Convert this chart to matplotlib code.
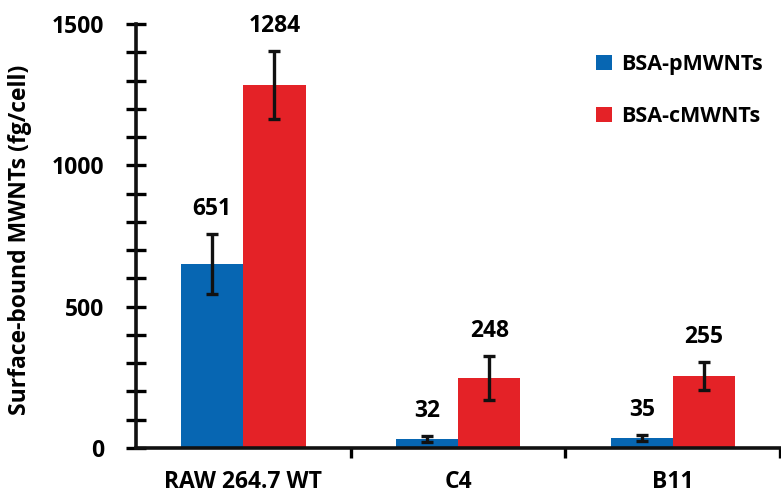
import numpy as np
import matplotlib.pyplot as plt
from matplotlib.ticker import MultipleLocator, FixedLocator

plt.rcParams['font.family'] = ['Open Sans', 'DejaVu Sans']
plt.rcParams['font.weight'] = 'bold'

# data
groups = ['RAW 264.7 WT', 'C4', 'B11']
series = ['BSA-pMWNTs', 'BSA-cMWNTs']
p_vals = [651, 32, 35]
p_err = [106, 10, 12]
c_vals = [1284, 248, 255]
c_err = [120, 78, 51]
colors = ['#0766B2', '#E42227']

fig = plt.figure(figsize=(7.81, 4.97), dpi=100)
ax = fig.add_axes([0.174, 0.0986, 0.825, 0.853])

x = np.arange(len(groups))
w = 0.29
ekw = dict(elinewidth=2.4, capthick=2.4, ecolor='#111111')
for off, vals, err, col, name in [(-w / 2, p_vals, p_err, colors[0], series[0]),
                                   (w / 2, c_vals, c_err, colors[1], series[1])]:
    ax.bar(x + off, vals, w, yerr=err, color=col, label=name,
           capsize=4.5, error_kw=ekw)
    for xi, v, e in zip(x + off, vals, err):
        ax.annotate(str(v), (xi, v + e), xytext=(0, 18), textcoords='offset points',
                    ha='center', va='center', fontsize=16.5, fontweight='bold')

ax.set_xlim(-0.5, 2.5)
ax.set_ylim(0, 1500)
ax.set_xticks(x)
ax.set_xticklabels(groups, fontsize=16.5, fontweight='bold')
ax.xaxis.set_minor_locator(FixedLocator([0.5, 1.5, 2.5]))
ax.tick_params(axis='x', which='major', length=0, pad=16)
ax.tick_params(axis='x', which='minor', length=7, width=2.4, direction='out')

ax.yaxis.set_major_locator(MultipleLocator(500))
ax.yaxis.set_minor_locator(MultipleLocator(100))
ax.tick_params(axis='y', which='both', direction='inout', length=14, width=2.4,
               labelsize=16.5, pad=16)
for lab in ax.get_yticklabels():
    lab.set_fontweight('bold')

ax.set_ylabel('Surface-bound MWNTs (fg/cell)', fontsize=16.5, fontweight='bold')
ax.yaxis.set_label_coords(-0.162, 0.49)

for s in ['top', 'right']:
    ax.spines[s].set_visible(False)
for s in ['left', 'bottom']:
    ax.spines[s].set_linewidth(2.6)
    ax.spines[s].set_color('#111111')

leg = ax.legend(loc='upper right', bbox_to_anchor=(1.0, 0.97), frameon=False,
                prop={'size': 15.5, 'weight': 'bold'}, handlelength=0.7, handleheight=0.7,
                handletextpad=0.45, labelspacing=1.45, borderpad=0.3)

fig.savefig('out.png', dpi=100)
